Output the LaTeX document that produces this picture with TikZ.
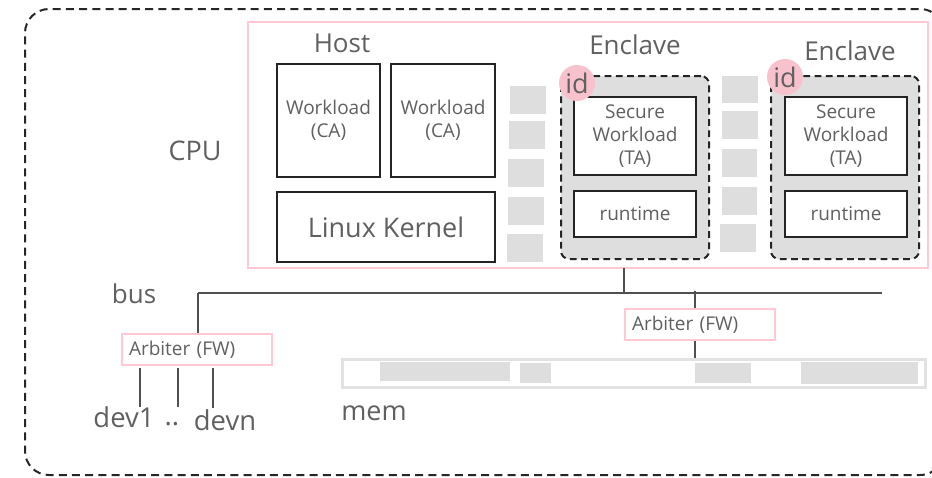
\documentclass[tikz,border=0pt]{standalone}
\usepackage{fontspec}
\setmainfont{Open Sans}
\usetikzlibrary{fit}

\definecolor{txt}{HTML}{606060}
\definecolor{pinkline}{HTML}{FFC8D3}
\definecolor{idpink}{HTML}{F8C2CC}
\definecolor{blockgray}{HTML}{DEDEDE}
\definecolor{memedge}{HTML}{E2E2E2}
\definecolor{boxline}{HTML}{242424}
\definecolor{wirecol}{HTML}{505050}

\begin{document}
\begin{tikzpicture}[x=0.5pt,y=-0.5pt,
  every node/.style={text=txt},
  lbl/.style={inner sep=0pt, font=\fontsize{#1}{#1}\selectfont},
  framebox/.style={draw=black!85, line width=1pt, dash pattern=on 4pt off 2.6pt},
  cpubox/.style={draw=pinkline, line width=1pt, inner sep=0pt},
  wbox/.style={draw=boxline, line width=1.1pt, fill=white, inner sep=0pt, align=center,
    font=\fontsize{9.5}{11.5}\selectfont},
  kernelbox/.style={draw=boxline, line width=1.1pt, fill=white, inner sep=0pt,
    font=\fontsize{13.5}{16}\selectfont},
  enclavebox/.style={draw=boxline, fill=blockgray, line width=1pt, dash pattern=on 3.4pt off 2.2pt,
    rounded corners=4pt, inner sep=0pt},
  pagebox/.style={fill=blockgray, draw=none, inner sep=0pt},
  idtag/.style={circle, fill=idpink, minimum size=18pt, inner sep=0pt,
    font=\fontsize{13.5}{16}\selectfont},
  arbiterbox/.style={draw=pinkline, line width=1pt, minimum width=75pt, minimum height=15.5pt,
    text width=68pt, inner xsep=3.5pt, inner ysep=0pt, align=left,
    font=\fontsize{9.5}{11}\selectfont},
  membar/.style={draw=memedge, line width=1.5pt, inner sep=0pt},
  wire/.style={draw=wirecol, line width=0.6pt}
]
\useasboundingbox (0,0) rectangle (932,477);
\clip (0,0) rectangle (932,477);

% outer system boundary; its right side lies past the page edge
\draw[framebox] ([shift={(30:12pt)}]920,33) arc[start angle=30, end angle=90, radius=12pt]
  -- (49,9) arc[start angle=90, end angle=180, radius=12pt]
  -- (25,451) arc[start angle=180, end angle=270, radius=12pt]
  -- (920,475) arc[start angle=270, end angle=330, radius=12pt];

% CPU
\node[cpubox, fit={(248,22) (928,268)}] (cpu) {};
\node[lbl=13.5] (cpulbl) at (195,151) {CPU};

% host side
\node[lbl=13] (host) at (342,43) {Host};
\node[wbox, minimum width=51.5pt, minimum height=56.5pt] (wl1) at (328.5,120.5) {Workload\\(CA)};
\node[wbox, minimum width=52pt, minimum height=56.5pt] (wl2) at (443,120.5) {Workload\\(CA)};
\node[kernelbox, minimum width=109pt, minimum height=35pt] (kernel) at (386,227) {Linux Kernel};

% memory pages between host and enclaves
\node[pagebox, fit={(510,86) (546,114)}] (pa1) {};
\node[pagebox, fit={(509,121) (545,149)}] (pa2) {};
\node[pagebox, fit={(508,159) (544,187)}] (pa3) {};
\node[pagebox, fit={(508,197) (544,225)}] (pa4) {};
\node[pagebox, fit={(507,234) (543,262)}] (pa5) {};

\node[pagebox, fit={(722,76) (758,103)}] (pb1) {};
\node[pagebox, fit={(722,111) (758,139)}] (pb2) {};
\node[pagebox, fit={(722,149) (757,177)}] (pb3) {};
\node[pagebox, fit={(722,187) (757,215)}] (pb4) {};
\node[pagebox, fit={(720,224) (756,252)}] (pb5) {};

% first enclave
\node[lbl=13] (enclbl1) at (635,45) {Enclave};
\node[enclavebox, fit={(561,76) (709,259)}] (enc1) {};
\node[wbox, minimum width=61pt, minimum height=39pt] (sw1) at (635,136) {Secure\\Workload\\(TA)};
\node[wbox, minimum width=61pt, minimum height=23pt] (rt1) at (635,214) {runtime};
\node[idtag] (id1) at (577,83) {id};

% second enclave
\node[lbl=13] (enclbl2) at (850,51) {Enclave};
\node[enclavebox, fit={(771,76) (919,259)}] (enc2) {};
\node[wbox, minimum width=61pt, minimum height=39pt] (sw2) at (846,136) {Secure\\Workload\\(TA)};
\node[wbox, minimum width=61pt, minimum height=23pt] (rt2) at (846,214) {runtime};
\node[idtag] (id2) at (785,77) {id};

% bus
\node[lbl=13] (buslbl) at (134,294) {bus};
\coordinate (busL) at (198,293);
\coordinate (busR) at (882,293);
\coordinate (cpuTap) at (624,268);
\coordinate (memTap) at (695,293);
\draw[wire] (busL) -- (busR);
\draw[wire] (cpuTap) -- (cpuTap |- busL);

% device side arbiter
\node[arbiterbox] (arbL) at (197,349.5) {Arbiter (FW)};
\draw[wire] (busL) -- (arbL.north -| busL);

\node[lbl=13.7] (dev1) at (124,417.5) {dev1};
\node[lbl=13.7] (dots) at (172,424) {..};
\node[lbl=13.7] (devn) at (225,420.5) {devn};
\coordinate (t1) at (140,368);
\coordinate (t2) at (178,368);
\coordinate (t3) at (213,368);
\draw[wire] (t1) -- (t1 |- dev1.north);
\draw[wire] (t2) -- (t2 |- dev1.north);
\draw[wire] (t3) -- ([yshift=1pt]t3 |- devn.north);

% memory side arbiter
\node[arbiterbox] (arbR) at (700,324.5) {Arbiter (FW)};
\draw[wire] ([yshift=1pt]memTap) -- (arbR.north -| memTap);

% memory
\node[membar, fit={(342,359) (925,387)}] (mem) {};
\node[pagebox, fit={(380,362) (510,381)}] (m1) {};
\node[pagebox, fit={(520,363) (551,383)}] (m2) {};
\node[pagebox, fit={(695,363) (751,383)}] (m3) {};
\node[pagebox, fit={(801,362) (918,384)}] (m4) {};
\draw[wire] (arbR.south -| memTap) -- (mem.north -| memTap);
\node[lbl=13.5] (memlbl) at (374,413.5) {mem};
\end{tikzpicture}
\end{document}
